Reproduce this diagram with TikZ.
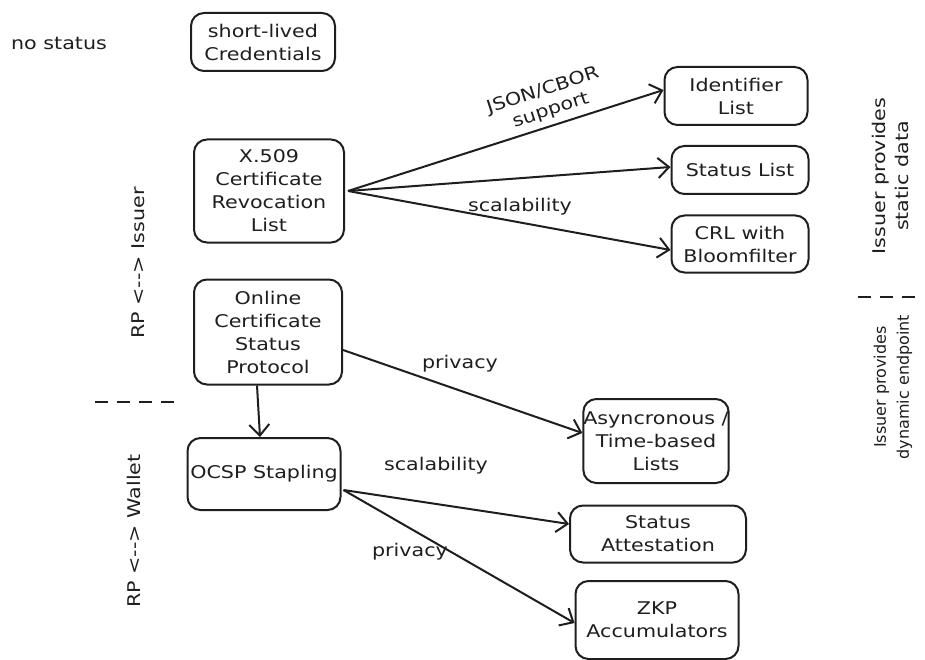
\documentclass[tikz,border=0pt]{standalone}
\usepackage{fontspec}
\usetikzlibrary{arrows.meta}
\newfontfamily\hand{DejaVu Sans}[FakeStretch=1.18]
\newfontfamily\handnarrow{DejaVu Sans}
\definecolor{ink}{HTML}{1E1E1E}
\tikzset{
  txt/.style={font=\hand\fontsize{17.5}{23}\selectfont, text=ink, align=center, inner sep=0pt},
  sidetxt/.style={txt, font=\handnarrow\fontsize{16}{23}\selectfont},
  stbox/.style={txt, draw=ink, line width=2pt, rounded corners=13pt},
  conn/.style={draw=ink, line width=2pt, -{Straight Barb[length=11pt,width=20pt,line width=2pt]}},
  sep/.style={draw=ink, line width=2pt, dash pattern=on 13pt off 9pt},
}
\begin{document}
\begin{tikzpicture}[x=1pt,y=-1pt]
\useasboundingbox (0,0) rectangle (925,660);

% left column: established mechanisms
\node[stbox, minimum width=144pt, minimum height=58pt] (slc) at (263,42) {short-lived\\Credentials};
\node[stbox, minimum width=150pt, minimum height=103pt] (crl) at (269,191) {X.509\\Certificate\\Revocation\\List};
\node[stbox, minimum width=148pt, minimum height=105pt] (ocsp) at (268,332) {Online\\Certificate\\Status\\Protocol};
\node[stbox, minimum width=153pt, minimum height=72pt] (stap) at (264,474) {OCSP Stapling};

% right column: newer approaches
\node[stbox, minimum width=143pt, minimum height=58pt] (idl) at (736,96) {Identifier\\List};
\node[stbox, minimum width=137pt, minimum height=48pt] (stl) at (740,170) {Status List};
\node[stbox, minimum width=137pt, minimum height=57pt] (bloom) at (740,244) {CRL with\\Bloomfilter};
\node[stbox, minimum width=144pt, minimum height=84pt] (async) at (656,441) {Asyncronous /\\Time-based\\Lists};
\node[stbox, minimum width=176pt, minimum height=57pt] (att) at (658,534) {Status\\Attestation};
\node[stbox, minimum width=163pt, minimum height=78pt] (zkp) at (657,620) {ZKP\\Accumulators};

% side labels
\node[txt] (nost) at (59,43) {no status};
\node[txt, rotate=90] (rpi) at (138,263) {RP <--> Issuer};
\node[txt, rotate=90] (rpw) at (134,531) {RP <--> Wallet};
\node[txt, rotate=90] (sdata) at (890,176) {Issuer provides\\static data};
\node[sidetxt, rotate=90] (dyn) at (893,387) {Issuer provides\\dynamic endpoint};

% separators
\coordinate (sepLa) at (95,402);
\coordinate (sepLb) at (175,402);
\coordinate (sepRa) at (858,297);
\coordinate (sepRb) at (922,297);
\draw[sep] (sepLa) -- (sepLb);
\draw[sep] (sepRa) -- (sepRb);

% connectors
\coordinate (crlout) at ([xshift=3pt]crl.east);
\draw[conn] (crlout) -- ([yshift=6pt]idl.west);
\draw[conn] (crlout) -- ([yshift=3pt]stl.west);
\draw[conn] (crlout) -- ([yshift=-6pt]bloom.west);
\draw[conn] ([yshift=-18pt]ocsp.east) -- ([yshift=8pt]async.west);
\draw[conn] ([xshift=-11pt]ocsp.south) -- ([xshift=-4pt]stap.north);
\coordinate (stapout) at ([xshift=2pt,yshift=-16pt]stap.east);
\draw[conn] (stapout) -- ([yshift=10pt]att.west);
\draw[conn] (stapout) -- ([yshift=-3pt]zkp.west);

% connector labels
\node[txt, rotate=18] (lbljson) at (543,91) {JSON/CBOR};
\node[txt, rotate=18] (lblsup) at (551,111) {support};
\node[txt] (lblscal1) at (520,207) {scalability};
\node[txt] (lblpriv1) at (460,364) {privacy};
\node[txt] (lblscal2) at (436,466) {scalability};
\node[txt] (lblpriv2) at (410,552) {privacy};
\end{tikzpicture}
\end{document}
